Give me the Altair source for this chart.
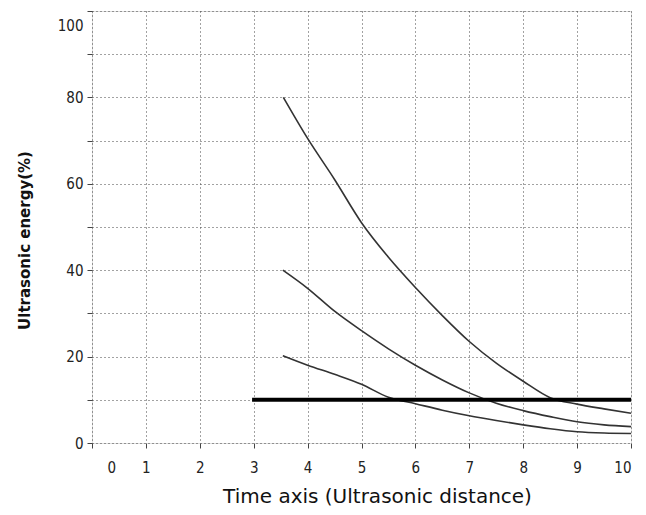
import altair as alt
import pandas as pd

# curve data
x_high = [3.55, 4, 4.5, 5, 5.5, 6, 6.5, 7, 7.5, 8, 8.5, 9, 9.5, 10]
y_high = [80, 70.5, 61, 51, 43, 36, 29.5, 23.5, 18.5, 14.3, 10.5, 9.0, 7.9, 6.9]
x_mid = [3.54, 4, 4.5, 5, 5.5, 6, 6.5, 7, 7.5, 8, 8.5, 9, 9.5, 10]
y_mid = [40, 35.8, 30.5, 26, 21.8, 18, 14.6, 11.6, 9.2, 7.5, 6.1, 4.9, 4.2, 3.8]
x_low = [3.54, 4, 4.5, 5, 5.5, 6, 6.5, 7, 7.5, 8, 8.5, 9, 9.5, 10]
y_low = [20.2, 18, 15.9, 13.6, 10.6, 9.1, 7.6, 6.3, 5.2, 4.2, 3.3, 2.6, 2.3, 2.2]
threshold_x = [2.97, 10]
threshold_y = [10, 10]
x_ticks = list(range(0, 11))
y_ticks = list(range(0, 101, 10))

rows = []
for name, xs_, ys_ in [("80", x_high, y_high), ("40", x_mid, y_mid), ("20", x_low, y_low)]:
    for xv, yv in zip(xs_, ys_):
        rows.append({"series": name, "x": xv, "y": yv})
curves = pd.DataFrame(rows)
thr = pd.DataFrame({"x": threshold_x, "y": threshold_y})

label_font = "Liberation Sans Narrow, Arial Narrow, DejaVu Sans Condensed, sans-serif"

x_axis = alt.Axis(
    values=x_ticks,
    title="Time axis (Ultrasonic distance)",
    titleFont="DejaVu Sans, sans-serif",
    titleFontSize=20,
    titleFontWeight="normal",
    titleColor="#111",
    titleX=285,
    titleY=53,
    titleBaseline="middle",
    titleAlign="center",
    labelFont=label_font,
    labelFontSize=15,
    labelColor="#222",
    labelPadding=12,
    labelOffset={"condition": {"test": "datum.value == 0", "value": 15}, "value": 0},
    grid=True,
    gridDash=[1, 3],
    gridColor="#444",
    gridWidth=1,
    domain=False,
    ticks=True,
    tickSize=5,
    tickColor="#444",
)

y_axis = alt.Axis(
    values=y_ticks,
    title="Ultrasonic energy(%)",
    titleFont="DejaVu Sans, sans-serif",
    titleFontSize=15,
    titleFontWeight="bold",
    titleColor="#111",
    titleX=-68,
    titleY=229,
    titleAngle=-90,
    titleBaseline="middle",
    titleAlign="center",
    labelFont=label_font,
    labelFontSize=15,
    labelColor="#222",
    labelPadding=4,
    labelExpr="datum.value % 20 == 0 ? datum.label : ''",
    labelOffset={"condition": {"test": "datum.value == 100", "value": 14}, "value": 0},
    grid=True,
    gridDash=[1, 3],
    gridColor="#444",
    gridWidth=1,
    domain=False,
    ticks=True,
    tickSize=5,
    tickColor="#444",
)

xs = alt.Scale(domain=[0, 10], nice=False, zero=False)
ys = alt.Scale(domain=[0, 100], nice=False)

lines = alt.Chart(curves).mark_line(strokeWidth=1.6, interpolate="monotone", color="#333").encode(
    x=alt.X("x:Q", scale=xs, axis=x_axis),
    y=alt.Y("y:Q", scale=ys, axis=y_axis),
    detail="series:N",
)

threshold = alt.Chart(thr).mark_line(strokeWidth=4, color="#000").encode(
    x=alt.X("x:Q", scale=xs),
    y=alt.Y("y:Q", scale=ys),
)

chart = alt.layer(lines, threshold).properties(
    width=539,
    height=432,
    autosize=alt.AutoSizeParams(type="none"),
    padding={"left": 84, "top": 3, "right": 7, "bottom": 64},
).configure_view(stroke=None).configure(background="white")

chart.save("out.html", embed_options={"renderer": "svg", "actions": False})
